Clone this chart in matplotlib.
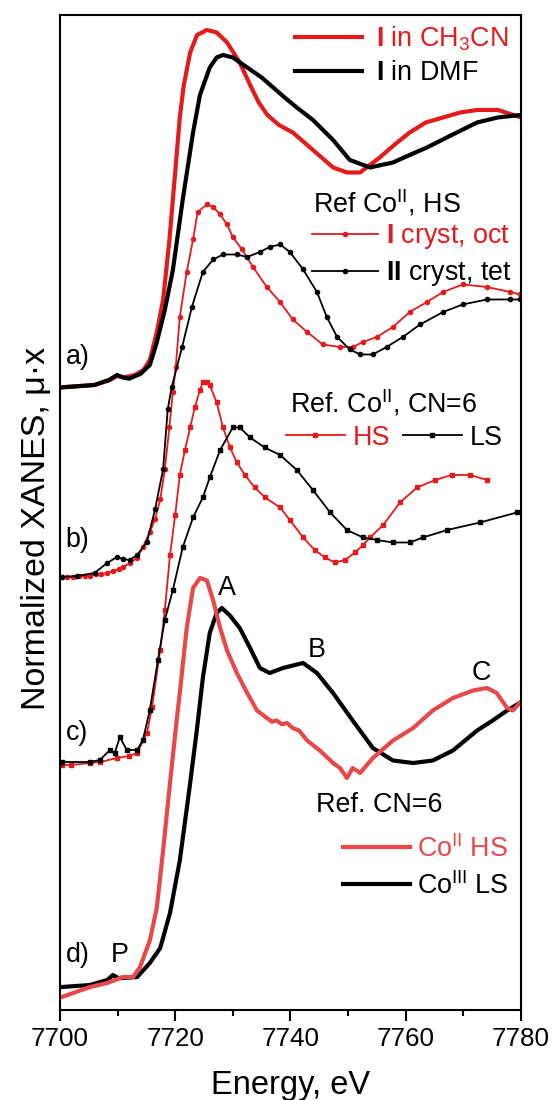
import numpy as np
import matplotlib.pyplot as plt
from matplotlib.ticker import MultipleLocator

plt.rcParams['font.family'] = 'Liberation Sans'
plt.rcParams['mathtext.fontset'] = 'custom'
plt.rcParams['mathtext.rm'] = 'Liberation Sans'
plt.rcParams['mathtext.bf'] = 'Liberation Sans:bold'
plt.rcParams['mathtext.it'] = 'Liberation Sans:italic'

red = '#e41a1c'
red_light = '#e9484b'

# a) complex I in solution
e_ch3cn = [7700, 7703, 7706, 7708.7, 7709.9, 7711, 7713, 7714.5, 7715.6, 7716.8, 7717.9, 7719.0,
           7720.0, 7720.8, 7721.5, 7722.6, 7723.8, 7725.5, 7727.2, 7729.0, 7731.2, 7733, 7734.5,
           7736, 7738, 7740.4, 7743.9, 7747.4, 7749.8, 7752.1, 7755.5, 7758, 7760.7, 7763.5,
           7766.5, 7769.5, 7772.4, 7776, 7780]
mu_ch3cn = [-0.01, -0.005, 0.0, 0.02, 0.036, 0.03, 0.04, 0.06, 0.10, 0.21, 0.34, 0.58,
            0.85, 1.07, 1.20, 1.33, 1.40, 1.42, 1.41, 1.37, 1.29, 1.20, 1.13,
            1.08, 1.04, 1.01, 0.94, 0.87, 0.85, 0.85, 0.91, 0.96, 1.01, 1.05,
            1.07, 1.09, 1.10, 1.10, 1.07]
e_dmf = [7700, 7703, 7706, 7708.5, 7709.9, 7711, 7712, 7714, 7715.6, 7716.8, 7718.2, 7719.6,
         7721.3, 7723.1, 7724.3, 7726, 7727.2, 7728.3, 7730, 7732.5, 7735, 7737, 7739, 7741.1,
         7743.9, 7747.4, 7750.3, 7753.8, 7757.8, 7760.7, 7763.7, 7768, 7772.4, 7776, 7780]
mu_dmf = [-0.01, -0.005, 0.0, 0.02, 0.04, 0.03, 0.025, 0.045, 0.08, 0.17, 0.30, 0.46,
          0.74, 1.01, 1.16, 1.27, 1.31, 1.32, 1.31, 1.27, 1.23, 1.19, 1.15, 1.11,
          1.06, 0.98, 0.90, 0.87, 0.89, 0.92, 0.95, 1.00, 1.05, 1.07, 1.08]

# b) crystals I (oct) and II (tet)
e_oct = [7700.3, 7701.3, 7702.3, 7703.3, 7704.3, 7705.2, 7706.2, 7707.2, 7708.2, 7709.2, 7710.2,
         7711.0, 7712.1, 7713.4, 7714.4, 7715.6, 7716.5, 7717.4, 7718.2, 7719.0, 7719.6, 7720.1,
         7720.8, 7722.0, 7723.1, 7723.9, 7725.5, 7726.6, 7727.8, 7729.0, 7730.0, 7731.6, 7733.5,
         7735.9, 7738.2, 7740.4, 7742.9, 7745.6, 7748.6, 7750.8, 7752.6, 7755.0, 7757.8, 7760.7,
         7763.7, 7766.5, 7769.9, 7774.1, 7778.1, 7779.8]
mu_oct = [0.0, 0.0, 0.0, 0.004, 0.004, 0.004, 0.01, 0.01, 0.016, 0.024, 0.03,
          0.04, 0.056, 0.076, 0.12, 0.18, 0.23, 0.31, 0.43, 0.60, 0.74, 0.84,
          1.04, 1.22, 1.35, 1.46, 1.49, 1.48, 1.45, 1.41, 1.36, 1.31, 1.24,
          1.16, 1.10, 1.03, 0.98, 0.93, 0.92, 0.92, 0.94, 0.96, 1.00, 1.06,
          1.10, 1.14, 1.17, 1.16, 1.14, 1.13]
e_tet = [7700.3, 7703, 7706, 7708.2, 7709.9, 7710.9, 7712.1, 7713.4, 7715.1, 7716.5, 7717.9,
         7718.7, 7719.4, 7721.2, 7722.9, 7724.8, 7726.6, 7728.3, 7730.7, 7732.5, 7734.7, 7736.4,
         7738.2, 7739.9, 7742.2, 7744.6, 7746.3, 7748.1, 7750.3, 7752.1, 7754.3, 7756.7, 7759.5,
         7762.5, 7766.5, 7769.9, 7774.1, 7778.1, 7779.8]
mu_tet = [0.0, 0.004, 0.016, 0.056, 0.08, 0.072, 0.068, 0.088, 0.14, 0.27, 0.43,
          0.67, 0.76, 0.92, 1.08, 1.22, 1.27, 1.29, 1.29, 1.28, 1.30, 1.32,
          1.33, 1.30, 1.23, 1.14, 1.04, 0.96, 0.91, 0.89, 0.89, 0.92, 0.96,
          1.01, 1.06, 1.09, 1.11, 1.11, 1.11]

# c) reference Co(II) CN=6, HS and LS
e_hs = [7700.3, 7702, 7705.2, 7707, 7709.9, 7712, 7713.4, 7715.1, 7716, 7717.4, 7718.2, 7719.1,
        7720.0, 7720.8, 7721.7, 7722.6, 7723.4, 7724.3, 7724.8, 7725.5, 7726.0, 7727.2, 7728.3,
        7729.5, 7730.7, 7732.1, 7733.8, 7735.6, 7738.2, 7739.9, 7742.2, 7744.2, 7746.0, 7747.7,
        7749.5, 7751.2, 7752.6, 7753.8, 7756.1, 7759.0, 7762.0, 7765.1, 7768.0, 7771.2, 7774.1]
mu_hs = [0.0, 0.0, 0.008, 0.012, 0.028, 0.036, 0.048, 0.128, 0.232, 0.46, 0.62, 0.84,
         1.00, 1.16, 1.26, 1.35, 1.43, 1.50, 1.53, 1.53, 1.52, 1.45, 1.35,
         1.27, 1.21, 1.16, 1.11, 1.07, 1.03, 0.98, 0.91, 0.86, 0.83, 0.81,
         0.82, 0.85, 0.88, 0.91, 0.96, 1.05, 1.11, 1.14, 1.16, 1.16, 1.14]
e_ls = [7700.3, 7705.2, 7706.9, 7708.7, 7709.5, 7710.4, 7711.6, 7713.4, 7714.4, 7715.6, 7717.0,
        7718.2, 7719.6, 7721.3, 7723.1, 7724.8, 7726.0, 7727.8, 7730.0, 7731.2, 7733.0, 7735.5,
        7738.2, 7741.1, 7743.9, 7746.9, 7749.8, 7752.6, 7755.0, 7757.8, 7760.7, 7763.0, 7767.2,
        7772.9, 7779.3]
mu_ls = [0.012, 0.012, 0.02, 0.06, 0.048, 0.112, 0.06, 0.06, 0.10, 0.22, 0.42,
         0.58, 0.70, 0.87, 0.99, 1.07, 1.15, 1.26, 1.35, 1.35, 1.31, 1.27,
         1.24, 1.18, 1.10, 1.01, 0.94, 0.91, 0.90, 0.89, 0.89, 0.91, 0.94,
         0.97, 1.01]

# d) reference CN=6, Co(II) HS and Co(III) LS
e_co2 = [7700.3, 7702.3, 7705.2, 7708.2, 7710.9, 7712.7, 7713.9, 7715.6, 7716.8, 7717.9, 7719.1,
         7720.3, 7720.8, 7722.0, 7723.1, 7724.3, 7725.5, 7726.6, 7727.8, 7729.0, 7730.7, 7732.5,
         7734.2, 7735.9, 7736.8, 7737.6, 7738.5, 7739.4, 7740.4, 7741.5, 7742.9, 7745.1, 7747.4,
         7748.6, 7749.8, 7750.3, 7750.8, 7752.1, 7754.3, 7757.8, 7761.3, 7764.7, 7768.2, 7771.7,
         7774.1, 7775.8, 7777.6, 7778.6, 7779.8]
mu_co2 = [-0.016, 0.0, 0.024, 0.04, 0.064, 0.064, 0.104, 0.21, 0.34, 0.57, 0.84,
          1.10, 1.20, 1.46, 1.62, 1.66, 1.65, 1.57, 1.46, 1.37, 1.28, 1.20,
          1.13, 1.10, 1.085, 1.09, 1.075, 1.08, 1.06, 1.05, 1.01, 0.97, 0.92,
          0.90, 0.86, 0.88, 0.90, 0.88, 0.94, 1.01, 1.06, 1.13, 1.18, 1.21,
          1.22, 1.20, 1.14, 1.13, 1.16]
e_co3 = [7700.3, 7705.2, 7708.2, 7709.2, 7710.1, 7710.9, 7713.4, 7715.6, 7717.4, 7719.1, 7720.8,
         7722.6, 7723.8, 7724.8, 7726.0, 7727.2, 7728.1, 7729.5, 7731.2, 7733.0, 7734.7, 7736.4,
         7738.7, 7742.2, 7744.6, 7747.4, 7750.8, 7754.3, 7757.8, 7761.3, 7764.7, 7768.2, 7772.4,
         7775.1, 7777.6, 7779.8]
mu_co3 = [0.024, 0.032, 0.052, 0.072, 0.06, 0.06, 0.064, 0.12, 0.18, 0.32, 0.53,
          0.84, 1.06, 1.26, 1.44, 1.52, 1.54, 1.51, 1.46, 1.38, 1.30, 1.28,
          1.30, 1.32, 1.28, 1.20, 1.09, 0.98, 0.93, 0.92, 0.93, 0.97, 1.05,
          1.09, 1.13, 1.16]

offsets = {'a': 2.5, 'b': 1.732, 'c': 0.98, 'd': 0.068}

fig = plt.figure(figsize=(5.55, 11.0), dpi=100)
ax = fig.add_axes([0.108, 0.0818, 0.8306, 0.9046])

la1, = ax.plot(e_ch3cn, np.array(mu_ch3cn) + offsets['a'], color=red, lw=3,
               label=r'$\mathbf{I}$ in CH$_3$CN')
la2, = ax.plot(e_dmf, np.array(mu_dmf) + offsets['a'], color='black', lw=3,
               label=r'$\mathbf{I}$ in DMF')

lb1, = ax.plot(e_oct, np.array(mu_oct) + offsets['b'], color=red, lw=1.3, marker='o', ms=3.0,
               label=r'$\mathbf{I}$ cryst, oct')
lb2, = ax.plot(e_tet, np.array(mu_tet) + offsets['b'], color='black', lw=1.3, marker='o', ms=3.0,
               label=r'$\mathbf{II}$ cryst, tet')

lc1, = ax.plot(e_hs, np.array(mu_hs) + offsets['c'], color=red, lw=1.3, marker='s', ms=3.0,
               label='HS')
lc2, = ax.plot(e_ls, np.array(mu_ls) + offsets['c'], color='black', lw=1.3, marker='s', ms=3.0,
               label='LS')

ld2, = ax.plot(e_co3, np.array(mu_co3) + offsets['d'], color='black', lw=3,
               label=r'Co$^{\rm III}$ LS')
ld1, = ax.plot(e_co2, np.array(mu_co2) + offsets['d'], color=red_light, lw=3,
               label=r'Co$^{\rm II}$ HS')

ax.set_xlim(7700, 7780)
ax.set_ylim(0, 3.98)
ax.set_yticks([])
ax.xaxis.set_major_locator(MultipleLocator(20))
ax.xaxis.set_minor_locator(MultipleLocator(10))
ax.tick_params(axis='x', which='major', direction='out', length=8, width=1.5, labelsize=18.7, pad=4)
ax.tick_params(axis='x', which='minor', direction='out', length=4.5, width=1.5)
for s in ax.spines.values():
    s.set_linewidth(1.5)

fs = 19.4
leg1 = ax.legend(handles=[la1, la2], loc='upper left', bbox_to_anchor=(0.51, 0.99), frameon=False,
                 fontsize=fs, handlelength=2.5, handletextpad=0.5, labelspacing=0.25,
                 borderpad=0, borderaxespad=0, labelcolor='linecolor')
ax.add_artist(leg1)
leg2 = ax.legend(handles=[lb1, lb2], loc='upper left', bbox_to_anchor=(0.547, 0.792), frameon=False,
                 fontsize=fs, handlelength=2.45, handletextpad=0.3, labelspacing=0.3,
                 borderpad=0, borderaxespad=0, labelcolor='linecolor', numpoints=1)
ax.add_artist(leg2)
leg3 = ax.legend(handles=[lc1, lc2], loc='upper left', bbox_to_anchor=(0.49, 0.588), frameon=False,
                 fontsize=fs, ncol=2, handlelength=2.2, handletextpad=0.3, columnspacing=0.45,
                 borderpad=0, borderaxespad=0, labelcolor='linecolor', numpoints=1)
ax.add_artist(leg3)
leg4 = ax.legend(handles=[ld1, ld2], loc='upper left', bbox_to_anchor=(0.614, 0.176), frameon=False,
                 fontsize=fs, handlelength=2.5, handletextpad=0.25, labelspacing=0.35,
                 borderpad=0, borderaxespad=0, labelcolor='linecolor')

ax.text(0.549, 0.811, r'Ref Co$^{\rm II}$, HS', transform=ax.transAxes, fontsize=fs, va='center')
ax.text(0.499, 0.610, r'Ref. Co$^{\rm II}$, CN=6', transform=ax.transAxes, fontsize=fs, va='center')
ax.text(0.555, 0.206, 'Ref. CN=6', transform=ax.transAxes, fontsize=fs, va='center')

# panel letters
ax.text(7701, offsets['a'] + 0.112, 'a)', fontsize=fs, va='center')
ax.text(7701, offsets['b'] + 0.148, 'b)', fontsize=fs, va='center')
ax.text(7701, offsets['c'] + 0.128, 'c)', fontsize=fs, va='center')
ax.text(7701, offsets['d'] + 0.152, 'd)', fontsize=fs, va='center')
ax.text(7710.4, offsets['d'] + 0.152, 'P', fontsize=fs, va='center', ha='center')
ax.text(7729.0, 1.688, 'A', fontsize=fs, va='center', ha='center')
ax.text(7744.6, 1.44, 'B', fontsize=fs, va='center', ha='center')
ax.text(7773.2, 1.348, 'C', fontsize=fs, va='center', ha='center')

fig.text(0.524, 0.0055, 'Energy, eV', fontsize=23.5, ha='center', va='baseline')
fig.text(0.066, 0.52, 'Normalized XANES, μ·x', fontsize=24.5, rotation=90, ha='center', va='center')

fig.savefig('out.png', dpi=100)
